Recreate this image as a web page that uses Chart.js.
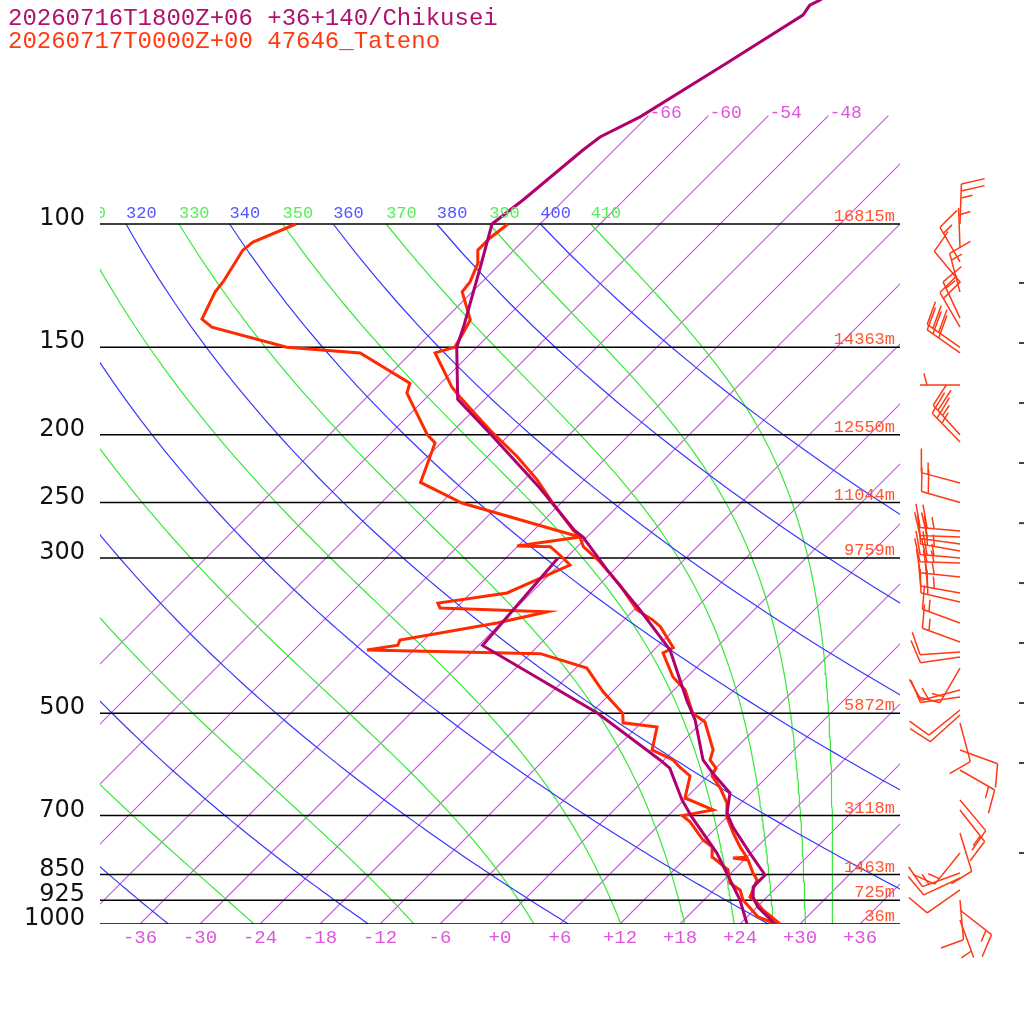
<!DOCTYPE html>
<html>
<head>
<meta charset="utf-8">
<style>
  html, body { margin: 0; padding: 0; background: #fff; }
  #wrap { width: 1024px; height: 1024px; }
</style>
<script src="https://cdn.jsdelivr.net/npm/chart.js@4.4.1/dist/chart.umd.min.js"></script>
</head>
<body>
<div id="wrap"><canvas id="skewt" width="1024" height="1024"></canvas></div>
<script>
// Titles
const titleModel = '20260716T1800Z+06 +36+140/Chikusei';
const titleObs = '20260717T0000Z+00 47646_Tateno';

// Standard levels and Tateno heights
const levelP = [100, 150, 200, 250, 300, 500, 700, 850, 925, 1000];
const levelZ = ['16815m', '14363m', '12550m', '11044m', '9759m', '5872m', '3118m', '1463m', '725m', '36m'];

// Background lines
const tempTicks = [-36, -30, -24, -18, -12, -6, 0, 6, 12, 18, 24, 30, 36];
const isoT = [-66, -60, -54, -48, -42, -36, -30, -24, -18, -12, -6, 0, 6, 12, 18, 24, 30, 36];
const dryTheta = [240, 260, 280, 300, 320, 340, 360, 380, 400];
const moistThetaE = [250, 270, 290, 310, 330, 350, 370, 390, 410];

// Chikusei (model) temperature and dew point
const modelP = [1000, 946, 915, 885, 851, 792, 727, 694, 650, 609, 583, 511, 479, 406, 356, 312, 280, 274, 238, 199, 178, 150, 140, 115, 100, 92.4, 78.4, 75.1, 70.3, 58.9, 50.3, 48.7, 47.9, 46.3];
const modelT = [27.5, 24.1, 22.6, 21.6, 21.6, 17.9, 13.6, 11.6, 9.9, 6.2, 3.9, -0.9, -3.7, -10.4, -17.4, -24.7, -30.4, -31.9, -39.7, -50.1, -56.7, -62.0, -63.4, -67.7, -70.8, -70.1, -69.1, -68.7, -66.7, -63.4, -60.6, -60.9, -60.4, -59.9];
const modelTdP = [1000, 924, 792, 703.5, 665, 599, 583, 500, 400, 300];
const modelTd = [24.7, 21.6, 14.6, 8.5, 5.8, 1.4, -0.4, -11.3, -29.6, -30.8];

// Tateno (sounding) temperature and dew point
const obsP = [1000, 955, 933, 915, 865, 845.5, 810, 805, 803, 776, 741, 703.5, 671.7, 639, 614.5, 598.7, 583, 564, 514.6, 500, 463, 443.8, 410, 403, 376, 368, 356, 328, 304, 289, 280, 273.6, 250, 232, 215, 197, 176.7, 171, 152.8, 150, 143, 137, 125, 121, 113.7, 109, 104.7, 100];
const obsT = [28.0, 24.9, 23.6, 22.3, 21.3, 20.2, 18.4, 16.7, 18.0, 16.3, 14.2, 12.0, 10.6, 8.4, 6.4, 6.0, 4.6, 3.9, 0.3, -1.8, -4.9, -7.4, -10.8, -10.3, -13.7, -15.1, -17.7, -21.9, -26.2, -29.4, -30.7, -32.1, -36.9, -40.7, -45.0, -50.4, -56.7, -58.5, -63.6, -62.2, -62.8, -63.4, -67.0, -67.2, -68.3, -69.6, -69.6, -69.2];
const obsTdP = [1000, 977, 924, 894, 874, 837, 803, 776, 758.6, 714.7, 700, 687, 660.7, 614.5, 597, 583, 564, 523, 516, 500, 466, 431, 411, 406, 399.6, 393, 371.5, 358, 353.6, 348, 336.6, 307, 300, 289, 288.4, 280, 250.4, 234, 205.5, 200, 174.4, 168.8, 152.8, 150, 140.4, 136.7, 125, 121, 109, 106.1, 100];
const obsTd = [27.6, 25.1, 21.9, 20.6, 18.9, 17.4, 14.6, 13.5, 11.9, 8.8, 7.4, 9.9, 5.9, 4.2, 2.3, 0.9, -2.2, -4.0, -7.8, -8.8, -12.9, -16.9, -23.0, -40.7, -38.1, -38.4, -30.4, -26.5, -37.6, -38.3, -32.4, -28.9, -30.3, -32.7, -36.1, -30.7, -45.9, -52.1, -54.6, -56.2, -62.4, -63.1, -71.1, -79.0, -88.5, -90.3, -91.7, -91.9, -93.1, -92.9, -90.4];

// Tateno winds (direction deg, speed kt)
const windP = [100, 108.2, 113.3, 121, 125.1, 136.3, 140.4, 150, 152.8, 169.8, 200.1, 204.8, 234.4, 250, 274.6, 280, 286.5, 293.2, 300, 305.1, 319.4, 336.6, 346.7, 371.5, 395.5, 408.8, 415.6, 430.9, 463, 473.8, 494.6, 502.8, 516.3, 564.2, 602.6, 665, 687.4, 741.3, 791.8, 845.5, 859.6, 894.1, 924, 955, 986.9];
const windDir = [2, 358, 330, 320, 345, 335, 330, 305, 305, 270, 318, 316, 285, 286, 275, 272, 278, 280, 275, 272, 276, 280, 283, 290, 290, 266, 262, 210, 255, 262, 231, 228, 165, 110, 120, 140, 142, 163, 219, 250, 245, 235, 175, 128, 160];
const windSpd = [25, 5, 15, 10, 15, 15, 20, 30, 30, 5, 25, 25, 15, 20, 25, 20, 20, 25, 25, 25, 25, 25, 20, 15, 15, 10, 10, 15, 15, 10, 10, 10, 10, 10, 15, 10, 15, 10, 15, 15, 10, 10, 10, 15, 5];
// model wind levels (barbs fall off the right edge, only their tips show)
const modelWindP = [121.4, 147.9, 180.2, 219.5, 267.5, 325.8, 396.8, 483.4, 588.8, 791.8];

// Skew-T geometry
const SKEW = 70;                       // degC shift per pressure decade (45 deg)
const P_TOP = 1000 * Math.pow(10, -924 / 700);
const ISO_TOP = 70;
const skewX = (t, p) => t + SKEW * Math.log10(1000 / p);
const toPts = (ps, ts) => ps.map((p, i) => ({ x: skewX(ts[i], p), y: p }));

const guideP = [];
for (let p = 1000; p >= 100; p -= 10) guideP.push(p);

// Saturated equivalent potential temperature (Bolton)
function thetaE(tc, p) {
    const tk = tc + 273.15;
    const es = 6.112 * Math.exp(17.67 * tc / (tc + 243.5));
    const r = 622 * es / (p - es);
    return tk * Math.pow(1000 / p, 0.2854 * (1 - 0.00028 * r)) *
        Math.exp((3.376 / tk - 0.00254) * r * (1 + 0.00081 * r));
}
function moistT(te, p) {
    let lo = -140, hi = 45;
    for (let i = 0; i < 50; i++) {
        const mid = (lo + hi) / 2;
        if (thetaE(mid, p) < te) lo = mid; else hi = mid;
    }
    return (lo + hi) / 2;
}

const line = (data, color, width, order) => ({
    data, showLine: true, borderColor: color, borderWidth: width,
    pointRadius: 0, fill: false, tension: 0, order
});

const datasets = [
    line(toPts(modelP, modelT), '#b0006e', 3, 0),
    line(toPts(modelTdP, modelTd), '#b0006e', 3, 0),
    line(toPts(obsP, obsT), '#ff2a00', 3, 1),
    line(toPts(obsTdP, obsTd), '#ff2a00', 3, 1)
];
levelP.forEach(p => datasets.push(line([{ x: -40, y: p }, { x: 40, y: p }], '#000', 1.5, 2)));
dryTheta.forEach(th => datasets.push(line(
    guideP.map(p => ({ x: skewX(th * Math.pow(p / 1000, 0.2857) - 273.15, p), y: p })), '#3838ff', 1.2, 3)));
moistThetaE.forEach(te => datasets.push(line(
    guideP.map(p => ({ x: skewX(moistT(te, p), p), y: p })), '#38e838', 1.2, 3)));

// Isotherms, drawn under everything
const isotherms = {
    id: 'isotherms',
    beforeDatasetsDraw(chart) {
        const { ctx, chartArea: a, scales: { x: sx, y: sy } } = chart;
        ctx.save();
        ctx.beginPath();
        ctx.rect(a.left, a.top, a.right - a.left, a.bottom - a.top);
        ctx.clip();
        ctx.strokeStyle = '#d24af0';
        ctx.lineWidth = 1.1;
        isoT.forEach(t => {
            ctx.beginPath();
            ctx.moveTo(sx.getPixelForValue(skewX(t, 1000)), sy.getPixelForValue(1000));
            ctx.lineTo(sx.getPixelForValue(skewX(t, ISO_TOP)), sy.getPixelForValue(ISO_TOP));
            ctx.stroke();
        });
        ctx.restore();
    }
};

// Text labels and wind barbs
const skewLabels = {
    id: 'skewLabels',
    afterDraw(chart) {
        const { ctx, chartArea: a, scales: { x: sx, y: sy } } = chart;
        const px = (t, p) => sx.getPixelForValue(skewX(t, p));
        const py = p => sy.getPixelForValue(p);
        ctx.save();

        // titles
        ctx.font = '24px "Liberation Mono", monospace';
        ctx.textAlign = 'left';
        ctx.textBaseline = 'alphabetic';
        ctx.fillStyle = '#b0106e';
        ctx.fillText(titleModel, 8, 25);
        ctx.fillStyle = '#ff3a14';
        ctx.fillText(titleObs, 8, 48);

        // pressure labels
        ctx.font = '24px "DejaVu Sans", sans-serif';
        ctx.fillStyle = '#111';
        ctx.textAlign = 'right';
        levelP.forEach(p => ctx.fillText(String(p), 85, py(p) + 1));

        // heights
        ctx.font = '17px "Liberation Mono", monospace';
        ctx.fillStyle = '#ff5533';
        levelP.forEach((p, i) => ctx.fillText(levelZ[i], a.right - 5, py(p) - 3));

        // temperature ticks
        ctx.font = '19px "Liberation Mono", monospace';
        ctx.fillStyle = '#dd55dd';
        ctx.textAlign = 'center';
        tempTicks.forEach(t => ctx.fillText(t < 0 ? String(t) : '+' + t, px(t, 1000), a.bottom + 19));

        // isotherm labels
        ctx.font = '18px "Liberation Mono", monospace';
        ctx.textAlign = 'left';
        isoT.forEach(t => {
            const x = px(t, ISO_TOP) + 1;
            const s = String(t);
            if (x + ctx.measureText(s).width <= a.right) ctx.fillText(s, x, py(ISO_TOP) + 2);
        });

        // adiabat labels at 100 hPa, clipped to the plot
        ctx.save();
        ctx.beginPath();
        ctx.rect(a.left, a.top, a.right - a.left, a.bottom - a.top);
        ctx.clip();
        ctx.font = '17px "Liberation Mono", monospace';
        ctx.fillStyle = '#5555ff';
        dryTheta.forEach(th => ctx.fillText(String(th), px(th * Math.pow(0.1, 0.2857) - 273.15, 100), py(100) - 6));
        ctx.fillStyle = '#55ee55';
        moistThetaE.forEach(te => ctx.fillText(String(te), px(moistT(te, 100), 100), py(100) - 6));
        ctx.restore();

        // wind barbs
        const bx = a.right + 60;
        ctx.strokeStyle = '#ff3a14';
        ctx.lineWidth = 1.5;
        const slant = 15 * Math.PI / 180;
        windP.forEach((p, i) => {
            const d = windDir[i] * Math.PI / 180;
            const sxv = Math.sin(d), syv = -Math.cos(d);
            const fx = -syv * Math.cos(slant) + sxv * Math.sin(slant);
            const fy = sxv * Math.cos(slant) + syv * Math.sin(slant);
            const by = py(p);
            const tx = bx + sxv * 40, ty = by + syv * 40;
            ctx.beginPath();
            ctx.moveTo(bx, by);
            ctx.lineTo(tx, ty);
            const full = Math.floor(windSpd[i] / 10);
            const half = windSpd[i] % 10 >= 5;
            let k = 0;
            for (; k < full; k++) {
                const ox = tx - sxv * 7 * k, oy = ty - syv * 7 * k;
                ctx.moveTo(ox, oy);
                ctx.lineTo(ox + fx * 24, oy + fy * 24);
            }
            if (half) {
                if (full === 0) k = 1;
                const ox = tx - sxv * 7 * k, oy = ty - syv * 7 * k;
                ctx.moveTo(ox, oy);
                ctx.lineTo(ox + fx * 12, oy + fy * 12);
            }
            ctx.stroke();
        });

        // model barb tips at the right edge
        ctx.strokeStyle = '#553355';
        ctx.lineWidth = 2;
        modelWindP.forEach(p => {
            ctx.beginPath();
            ctx.moveTo(1019, py(p));
            ctx.lineTo(1024, py(p));
            ctx.stroke();
        });
        ctx.restore();
    }
};

new Chart(document.getElementById('skewt'), {
    type: 'scatter',
    data: { datasets },
    options: {
        responsive: false,
        animation: false,
        devicePixelRatio: 1,
        layout: { padding: { left: 100, right: 124, top: 0, bottom: 100 } },
        plugins: { legend: { display: false }, tooltip: { enabled: false } },
        scales: {
            x: { type: 'linear', min: -40, max: 40, display: false },
            y: { type: 'logarithmic', min: P_TOP, max: 1000, reverse: true, display: false }
        }
    },
    plugins: [isotherms, skewLabels]
});
</script>
</body>
</html>
